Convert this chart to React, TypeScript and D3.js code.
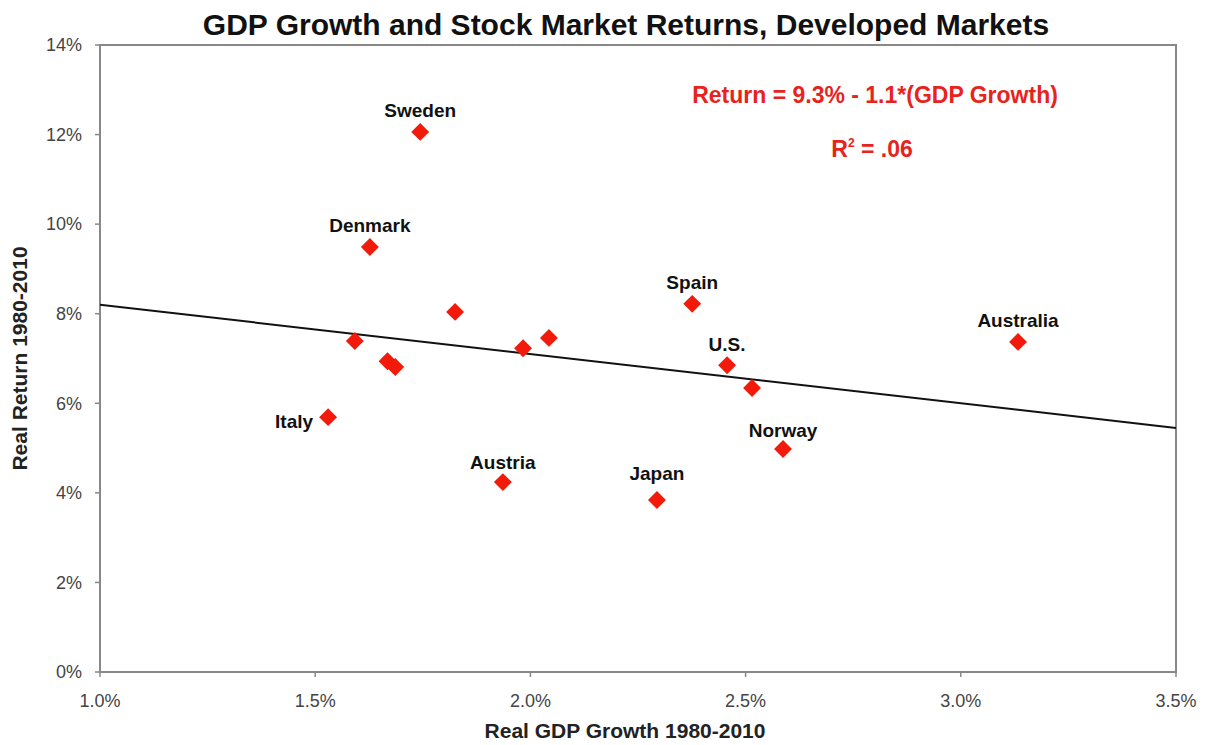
import React from 'react';
import * as d3 from 'd3';

// Real GDP growth (%) and real return (%), 1980-2010
const countries = ['Sweden', 'Denmark', '', '', '', '', '', '', 'Italy', 'Austria', 'Spain', 'U.S.', '', 'Norway', 'Japan', 'Australia'];
const gdpGrowth = [1.744, 1.627, 1.825, 1.592, 1.668, 1.686, 1.983, 2.043, 1.530, 1.936, 2.376, 2.457, 2.515, 2.587, 2.294, 3.133];
const realReturn = [12.06, 9.49, 8.04, 7.39, 6.94, 6.81, 7.23, 7.46, 5.69, 4.24, 8.22, 6.85, 6.34, 4.98, 3.84, 7.37];

const xTicks = [1.0, 1.5, 2.0, 2.5, 3.0, 3.5];
const yTicks = [0, 2, 4, 6, 8, 10, 12, 14];

const fitIntercept = 9.3;
const fitSlope = -1.1;

const W = 1205;
const H = 745;
const margin = { top: 45, right: 29, bottom: 73, left: 100 };

const App = () => {
  const innerW = W - margin.left - margin.right;
  const innerH = H - margin.top - margin.bottom;

  const x = d3.scaleLinear().domain([1.0, 3.5]).range([0, innerW]);
  const y = d3.scaleLinear().domain([0, 14]).range([innerH, 0]);

  const diamond = d3.symbol().type(d3.symbolSquare).size(160)();
  const font = 'Arial, "Liberation Sans", Helvetica, sans-serif';

  const fitLine = d3.line<number>()
    .x(d => x(d))
    .y(d => y(fitIntercept + fitSlope * d));

  // label nudges (vertical offset from point), Italy sits to the left
  const labelDy: Record<string, number> = { Japan: -20, Norway: -12, Austria: -13, 'U.S.': -14 };

  return (
    <svg width={W} height={H} style={{ position: 'absolute', left: 0, top: 0, background: '#fff', fontFamily: font }}>
      <text x={626} y={35} textAnchor="middle" fontSize={30} fontWeight="bold" fill="#111">
        GDP Growth and Stock Market Returns, Developed Markets
      </text>
      <g transform={`translate(${margin.left},${margin.top})`}>
        <rect x={0} y={0} width={innerW} height={innerH} fill="none" stroke="#888" strokeWidth={2} />
        {yTicks.map(t => (
          <g key={'y' + t} transform={`translate(0,${y(t)})`}>
            <line x1={-5} x2={0} stroke="#888" strokeWidth={1.5} />
            <text x={-18} dy="0.35em" textAnchor="end" fontSize={18} fill="#444">{t}%</text>
          </g>
        ))}
        {xTicks.map(t => (
          <g key={'x' + t} transform={`translate(${x(t)},${innerH})`}>
            <line y1={0} y2={5} stroke="#888" strokeWidth={1.5} />
            <text y={35} textAnchor="middle" fontSize={18} fill="#444">{t.toFixed(1)}%</text>
          </g>
        ))}
        <path d={fitLine([1.0, 3.5]) || ''} fill="none" stroke="#111" strokeWidth={2} />
        {gdpGrowth.map((g, i) => (
          <path key={'p' + i} d={diamond || ''} transform={`translate(${x(g)},${y(realReturn[i])}) rotate(45)`} fill="#f21a0a" />
        ))}
        {countries.map((c, i) => {
          if (!c) return null;
          const px = x(gdpGrowth[i]);
          const py = y(realReturn[i]);
          if (c === 'Italy') {
            return <text key={'l' + i} x={px - 15} y={py + 11} textAnchor="end" fontSize={19} fontWeight="bold" fill="#111">{c}</text>;
          }
          return <text key={'l' + i} x={px} y={py + (labelDy[c] ?? -15)} textAnchor="middle" fontSize={19} fontWeight="bold" fill="#111">{c}</text>;
        })}
        <text x={775} y={58} textAnchor="middle" fontSize={23} fontWeight="bold" fill="#e8231c">
          Return = 9.3% - 1.1*(GDP Growth)
        </text>
        <text x={772} y={112} textAnchor="middle" fontSize={23} fontWeight="bold" fill="#e8231c">
          R<tspan fontSize={12} dy={-10}>2</tspan><tspan dy={10}> = .06</tspan>
        </text>
      </g>
      <text x={625} y={738} textAnchor="middle" fontSize={21} fontWeight="bold" fill="#222">Real GDP Growth 1980-2010</text>
      <text transform={`translate(27,${margin.top + innerH / 2}) rotate(-90)`} textAnchor="middle" fontSize={21} fontWeight="bold" fill="#222">
        Real Return 1980-2010
      </text>
    </svg>
  );
};

export default App;
